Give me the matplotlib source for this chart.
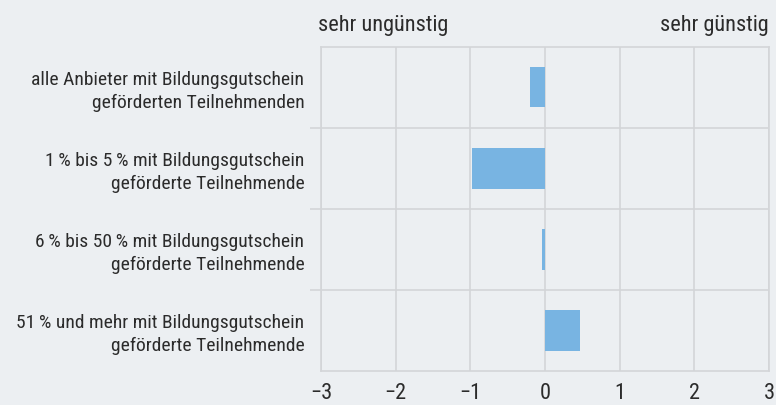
import matplotlib
matplotlib.use("Agg")
import numpy as np
import matplotlib.pyplot as plt

# data
categories = [
    "alle Anbieter mit Bildungsgutschein\ngeförderten Teilnehmenden",
    "1\u2009% bis 5\u2009% mit Bildungsgutschein\ngeförderte Teilnehmende",
    "6\u2009% bis 50\u2009% mit Bildungsgutschein\ngeförderte Teilnehmende",
    "51\u2009% und mehr mit Bildungsgutschein\ngeförderte Teilnehmende",
]
values = [-0.20, -0.98, -0.04, 0.47]
xticks = [-3, -2, -1, 0, 1, 2, 3]

bg = "#eceff2"
grid_col = "#d3d5d8"
bar_col = "#78b4e2"
text_col = "#2b2b2b"

plt.rcParams['font.family'] = ['Roboto Condensed', 'Lato', 'DejaVu Sans']

fig = plt.figure(figsize=(7.76, 4.05), dpi=100, facecolor=bg)
ax = fig.add_axes([0.4137, 0.084, 0.991 - 0.4137, 0.8847 - 0.084])
ax.set_facecolor(bg)

pos = np.arange(len(categories))
ax.barh(pos, values, height=0.5, color=bar_col, zorder=3)

ax.set_xlim(-3, 3)
ax.set_ylim(len(categories) - 0.5, -0.5)
ax.set_xticks(xticks)
ax.set_xticklabels([("\u2212%d" % -v) if v < 0 else str(v) for v in xticks])
ax.tick_params(axis='x', length=0, pad=9, labelsize=16, labelcolor=text_col)
ax.xaxis.grid(True, color=grid_col, linewidth=1.2, zorder=0)

# category separators as major ticks, labels on minor ticks
ax.set_yticks(pos[:-1] + 0.5)
ax.set_yticklabels([])
ax.tick_params(axis='y', which='major', length=8, width=1.2, color=grid_col)
ax.set_yticks(pos, minor=True)
ax.set_yticklabels(categories, minor=True, fontsize=14, color=text_col,
                   linespacing=1.3)
ax.tick_params(axis='y', which='minor', length=0, pad=12)
ax.yaxis.grid(True, which='major', color=grid_col, linewidth=1.2, zorder=0)

for s in ax.spines.values():
    s.set_color(grid_col)
    s.set_linewidth(1.2)

fig.text(0.41, 0.938, "sehr ungünstig", ha='left', va='center',
         fontsize=16, color=text_col)
fig.text(0.99, 0.938, "sehr günstig", ha='right', va='center',
         fontsize=16, color=text_col)

fig.savefig("out.png", dpi=100, facecolor=bg)
